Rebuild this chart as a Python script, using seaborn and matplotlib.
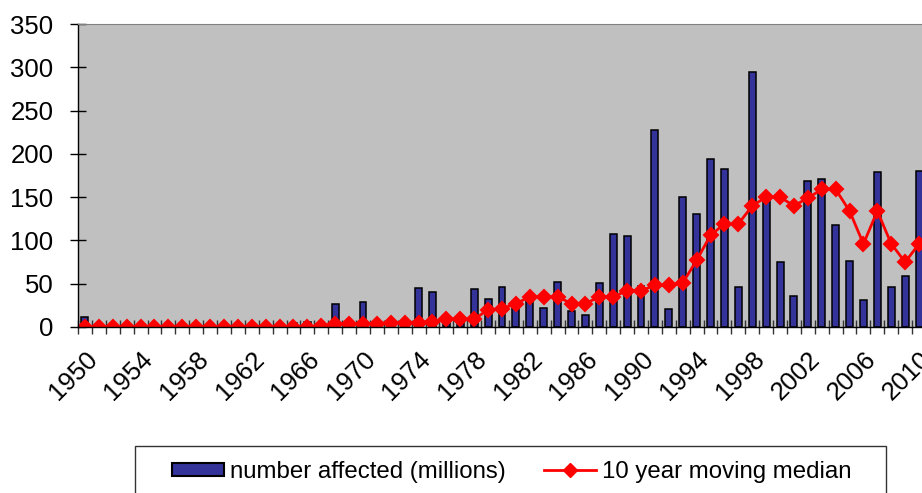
import matplotlib
matplotlib.use("Agg")
import matplotlib.pyplot as plt
from matplotlib.patches import Patch, Rectangle
from matplotlib.lines import Line2D
import numpy as np
import seaborn as sns

plt.rcParams['font.family'] = ['Liberation Sans', 'DejaVu Sans']

years = list(range(1950, 2011))
affected = [11, 0, 0, 0, 0, 0, 0, 0, 0, 0,
            0, 0, 0, 0, 0, 5, 6, 1, 26, 2,
            29, 4, 3, 5, 45, 40, 8, 6, 44, 32,
            46, 24, 38, 22, 52, 19, 14, 51, 108, 105,
            47, 228, 21, 150, 130, 194, 183, 46, 294, 150,
            75, 36, 169, 171, 118, 76, 31, 179, 46, 59,
            180]
median = [0, 0, 0, 0, 0, 0, 0, 0, 0, 0,
          0, 0, 0, 0, 0, 0, 0, 1, 3, 3,
          4, 4, 5, 5, 5, 6, 9, 9, 9, 20,
          21, 27, 35, 35, 35, 27, 27, 35, 35, 42,
          42, 48, 48, 51, 77, 106, 119, 119, 140, 150,
          150, 140, 149, 159, 159, 134, 96, 134, 96, 75,
          96]
bar_label = "number affected (millions)"
line_label = "10 year moving median"

W, H = 922, 493
fig = plt.figure(figsize=(W / 100, H / 100), dpi=100)
ax = fig.add_axes([78 / W, 1 - 327 / H, 848 / W, 303 / H])
ax.set_facecolor('#C0C0C0')

sns.barplot(x=years, y=affected, color='#333399', saturation=1, width=0.5,
            edgecolor='black', linewidth=1.1, ax=ax)
sns.pointplot(x=years, y=median, color='red', markers='D', markersize=7,
              linewidth=2, errorbar=None, ax=ax)

ax.set_xlim(-0.5, len(years) - 0.5)
ax.set_ylim(0, 350)
ax.set_yticks(range(0, 351, 50))
ax.set_xticks(range(0, len(years), 4))
ax.set_xticklabels([str(y) for y in years[::4]], rotation=45, ha='right',
                   va='top', rotation_mode='anchor')
ax.set_xticks(np.arange(-0.5, len(years), 1), minor=True)
ax.set_xlabel('')
ax.set_ylabel('')

ax.tick_params(axis='y', direction='inout', length=11.5, width=1, color='black',
               labelsize=18.5, pad=12)
ax.tick_params(axis='x', which='major', length=0, labelsize=18.5, pad=14.6)
ax.tick_params(axis='x', which='minor', direction='inout', length=9.5, width=1,
               color='#333333')

for s in ['left', 'bottom']:
    ax.spines[s].set_color('black')
    ax.spines[s].set_linewidth(1)
ax.spines['top'].set_color('#808080')
ax.spines['right'].set_visible(False)

handles = [Patch(facecolor='#333399', edgecolor='black', linewidth=1.5),
           Line2D([], [], color='red', marker='D', markersize=7, lw=2)]
fig.legend(handles, [bar_label, line_label], loc='center left',
           bbox_to_anchor=(172 / W, 1 - 472 / H), ncol=2, frameon=False,
           borderpad=0, borderaxespad=0, handlelength=2.15, handletextpad=0.27,
           columnspacing=1.6, handleheight=0.5, fontsize=17.3)
fig.add_artist(Rectangle((135 / W, 1 - 500 / H), (886 - 135) / W, (500 - 446) / H,
                         transform=fig.transFigure, fill=False,
                         edgecolor='#333333', linewidth=1, clip_on=False))

fig.savefig('out.png', dpi=100)
